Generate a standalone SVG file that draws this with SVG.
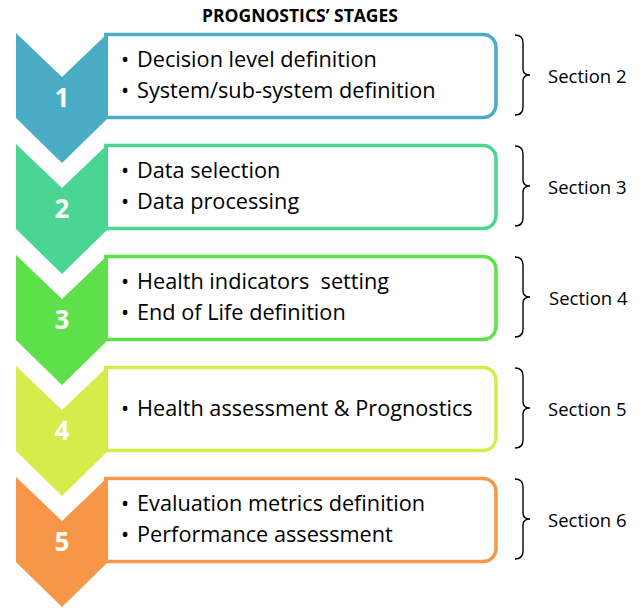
<svg xmlns="http://www.w3.org/2000/svg" width="643" height="608" viewBox="0 0 643 608">
<style>
.box{fill:#fff;stroke-width:3.5}
.num{font-family:"Open Sans","Liberation Sans",sans-serif;font-weight:bold;font-size:26px;fill:#fff;text-anchor:middle}
.txt{font-family:"Open Sans","Liberation Sans",sans-serif;font-size:21.7px;fill:#000}
.sec{font-family:"Open Sans","Liberation Sans",sans-serif;font-size:18.5px;fill:#000}
.br{fill:none;stroke:#000;stroke-width:1.4}
.title{font-family:"Open Sans","Liberation Sans",sans-serif;font-weight:bold;font-size:17.5px;fill:#000;text-anchor:middle}
</style>
<defs>
<path id="chev" d="M16,0 L62,44 L108,0 L108,85 L62,130 L16,85 Z"/>
<path id="frame" d="M104,1.5 H483 A13,13 0 0 1 496,14.5 V71.5 A13,13 0 0 1 483,84.5 H104"/>
<path id="brace" d="M515,2 Q523,2 523,10 L523,36 Q523,42 530,42 Q523,42 523,48 L523,74 Q523,82 515,82"/>
</defs>
<text class="title" x="300" y="22">PROGNOSTICS’ STAGES</text>

<g id="stage1" transform="translate(0,33)">
<use href="#frame" class="box" stroke="#4BACC6"/>
<use href="#chev" fill="#4BACC6"/>
<text class="num" x="62" y="74">1</text>
<text class="txt" x="121" y="34">•</text><text class="txt" x="137" y="34">Decision level definition</text>
<text class="txt" x="121" y="65">•</text><text class="txt" x="137" y="65">System/sub-system definition</text>
</g>
<g id="stage2" transform="translate(0,144)">
<use href="#frame" class="box" stroke="#4AD593"/>
<use href="#chev" fill="#4AD593"/>
<text class="num" x="62" y="74">2</text>
<text class="txt" x="121" y="34">•</text><text class="txt" x="137" y="34">Data selection</text>
<text class="txt" x="121" y="65">•</text><text class="txt" x="137" y="65">Data processing</text>
</g>
<g id="stage3" transform="translate(0,255)">
<use href="#frame" class="box" stroke="#5EE04B"/>
<use href="#chev" fill="#5EE04B"/>
<text class="num" x="62" y="74">3</text>
<text class="txt" x="121" y="34">•</text><text class="txt" x="137" y="34" xml:space="preserve">Health indicators  setting</text>
<text class="txt" x="121" y="65">•</text><text class="txt" x="137" y="65">End of Life definition</text>
</g>
<g id="stage4" transform="translate(0,366)">
<use href="#frame" class="box" stroke="#D6EC4A"/>
<use href="#chev" fill="#D6EC4A"/>
<text class="num" x="62" y="74">4</text>
<text class="txt" x="121" y="50">•</text><text class="txt" x="137" y="50">Health assessment &amp; Prognostics</text>
</g>
<g id="stage5" transform="translate(0,477)">
<use href="#frame" class="box" stroke="#F79646"/>
<use href="#chev" fill="#F79646"/>
<text class="num" x="62" y="74">5</text>
<text class="txt" x="121" y="34">•</text><text class="txt" x="137" y="34">Evaluation metrics definition</text>
<text class="txt" x="121" y="65">•</text><text class="txt" x="137" y="65">Performance assessment</text>
</g>

<g id="sections">
<use href="#brace" class="br" transform="translate(0,33)"/>
<text class="sec" x="548" y="83">Section 2</text>
<use href="#brace" class="br" transform="translate(0,144)"/>
<text class="sec" x="548" y="194">Section 3</text>
<use href="#brace" class="br" transform="translate(0,255)"/>
<text class="sec" x="549" y="305">Section 4</text>
<use href="#brace" class="br" transform="translate(0,366)"/>
<text class="sec" x="548" y="416">Section 5</text>
<use href="#brace" class="br" transform="translate(0,477)"/>
<text class="sec" x="548" y="527">Section 6</text>
</g>
</svg>
